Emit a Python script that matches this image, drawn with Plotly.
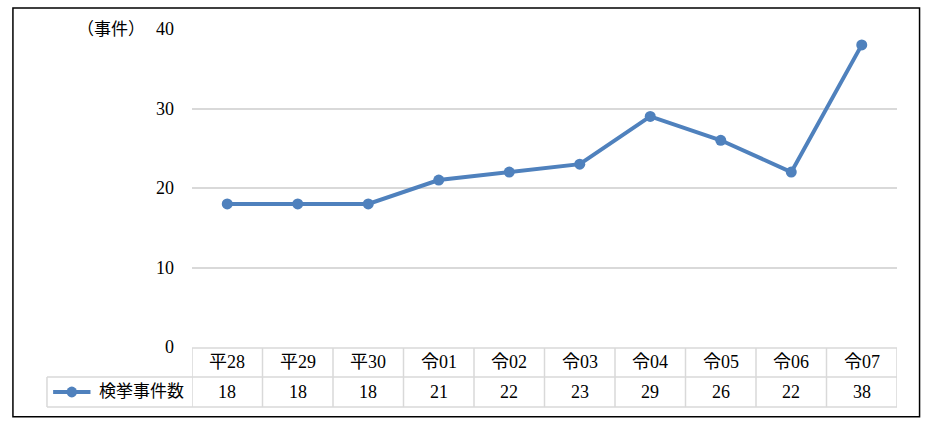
import plotly.graph_objects as go

# Données
categories = ["平28", "平29", "平30", "令01", "令02", "令03", "令04", "令05", "令06", "令07"]
counts = [18, 18, 18, 21, 22, 23, 29, 26, 22, 38]
series_name = "検挙事件数"
y_ticks = [0, 10, 20, 30, 40]

FONT = "Liberation Serif, Noto Sans CJK JP, serif"
LINE_COLOR = "#4f81bd"
GRID = "#d9d9d9"

fig = go.Figure()

fig.add_trace(go.Scatter(
    x=list(range(len(categories))), y=counts,
    mode="lines+markers",
    line=dict(color=LINE_COLOR, width=4),
    marker=dict(color=LINE_COLOR, size=11),
    showlegend=False,
))

# Tableau de données sous le graphique
top, mid, bot = -0.003, -0.094, -0.189
leg_left = -0.2057
n = len(categories)

shapes = []
# lignes horizontales
shapes.append(dict(type="line", xref="x", yref="paper", x0=-0.5, x1=n - 0.5,
                   y0=top, y1=top, line=dict(color=GRID, width=1.5)))
for yy in (mid, bot):
    shapes.append(dict(type="line", xref="paper", yref="paper", x0=leg_left, x1=1,
                       y0=yy, y1=yy, line=dict(color=GRID, width=1.5)))
# lignes verticales
for i in range(n + 1):
    shapes.append(dict(type="line", xref="x", yref="paper", x0=i - 0.5, x1=i - 0.5,
                       y0=top, y1=bot, line=dict(color=GRID, width=1.5)))
shapes.append(dict(type="line", xref="paper", yref="paper", x0=leg_left, x1=leg_left,
                   y0=mid, y1=bot, line=dict(color=GRID, width=1.5)))
# symbole de légende
ly = (mid + bot) / 2
shapes.append(dict(type="line", xref="paper", yref="paper", x0=-0.197, x1=-0.144,
                   y0=ly, y1=ly, line=dict(color=LINE_COLOR, width=4)))
shapes.append(dict(type="circle", xref="paper", yref="paper", x0=-0.178, x1=-0.163,
                   y0=ly - 0.017, y1=ly + 0.017, fillcolor=LINE_COLOR,
                   line=dict(color=LINE_COLOR, width=0)))
# cadre extérieur
shapes.append(dict(type="rect", xref="paper", yref="paper", x0=-0.254, x1=1.032,
                   y0=-0.219, y1=1.066, line=dict(color="#000000", width=1.5)))

annotations = []
for i, (cat, val) in enumerate(zip(categories, counts)):
    annotations.append(dict(x=i, y=(top + mid) / 2, xref="x", yref="paper",
                            xanchor="center", yanchor="middle",
                            text=cat, showarrow=False, font=dict(size=18)))
    annotations.append(dict(x=i, y=ly, xref="x", yref="paper",
                            xanchor="center", yanchor="middle",
                            text=str(val), showarrow=False, font=dict(size=18)))
annotations.append(dict(x=-0.135, y=ly, xref="paper", yref="paper",
                        xanchor="left", yanchor="middle",
                        text=series_name, showarrow=False, font=dict(size=17)))
annotations.append(dict(x=-0.064, y=1.0, xref="paper", yref="paper",
                        xanchor="right", yanchor="middle",
                        text="（事件）", showarrow=False, font=dict(size=17)))

fig.update_layout(
    width=928, height=423,
    margin=dict(l=192, r=31, t=29, b=76),
    paper_bgcolor="white", plot_bgcolor="white",
    font=dict(family=FONT, size=18, color="#000000"),
    shapes=shapes, annotations=annotations,
    xaxis=dict(range=[-0.5, n - 0.5], showticklabels=False, showgrid=False,
               zeroline=False, showline=False, fixedrange=True),
    yaxis=dict(range=[0, 40], tickvals=y_ticks, showgrid=True, gridcolor=GRID,
               gridwidth=1.5, zeroline=False, showline=False, ticks="",
               ticklabelstandoff=17, fixedrange=True),
)

# Supprimer la marge par défaut de la page
fig.write_html("out.html", config={"displayModeBar": False},
               post_script="document.body.style.margin='0';")
